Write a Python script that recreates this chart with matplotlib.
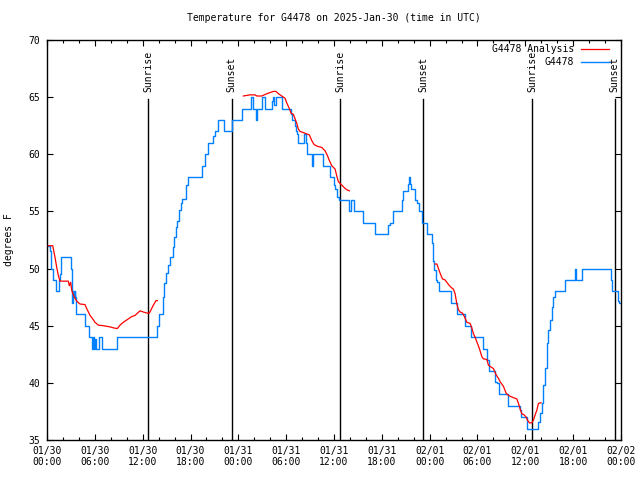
import numpy as np
import matplotlib
matplotlib.use("Agg")
import matplotlib.pyplot as plt
import matplotlib.transforms as mtransforms

# hours since 2025-01-30 00:00 UTC
obs_hours = [0.06, 0.38, 0.56, 0.75, 1.13, 1.54, 1.63, 1.76, 2.97, 3.10, 3.17, 3.30, 3.39, 3.48,
             3.55, 3.64, 4.77, 5.27, 5.61, 5.81, 5.93, 6.02, 6.15, 6.52, 6.86, 8.82, 13.74, 14.09,
             14.52, 14.68, 14.93, 15.22, 15.43, 15.77, 15.93, 16.19, 16.35, 16.60, 16.78, 16.98,
             17.44, 17.73, 19.41, 19.82, 20.16, 20.87, 21.08, 21.49, 22.21, 23.17, 24.43, 25.56,
             25.89, 26.19, 26.31, 26.94, 27.35, 28.19, 28.39, 28.52, 28.70, 29.45, 30.58, 30.70,
             31.12, 31.24, 31.41, 31.53, 32.25, 32.50, 32.58, 33.21, 33.29, 33.41, 34.67, 35.51,
             36.01, 36.14, 36.35, 36.64, 37.85, 38.14, 38.52, 39.61, 41.15, 42.82, 43.04, 43.45,
             44.50, 44.63, 45.33, 45.46, 45.55, 45.67, 46.17, 46.46, 46.68, 47.05, 47.64, 48.34,
             48.39, 48.59, 48.77, 48.97, 49.18, 50.69, 51.48, 52.45, 53.20, 54.67, 55.17, 55.50,
             56.21, 56.50, 56.71, 57.80, 59.35, 59.47, 60.26, 61.64, 61.86, 62.07, 62.27, 62.48,
             62.70, 62.90, 63.11, 63.32, 63.53, 63.74, 64.99, 66.25, 66.37, 67.16, 70.77, 70.93,
             71.68, 71.81, 71.96]
obs_temp = [52, 51.5, 50, 49, 48, 49, 49.5, 51, 50, 48, 47, 48, 47.5, 48,
            47.5, 46, 45, 44, 43, 44, 43, 43.8, 43, 44, 43, 44, 45, 46,
            47.5, 48.7, 49.6, 50.3, 51, 51.9, 52.8, 53.6, 54.2, 55.1, 55.7, 56.1,
            57.3, 58, 59, 60, 61, 61.6, 62, 63, 62, 63, 64, 65,
            64, 63, 64, 65, 64, 64.7, 65, 64.3, 65, 64, 63.5, 63,
            62.5, 62, 61.8, 61, 61.8, 61, 60, 59.3, 59, 60, 59, 58,
            57.3, 57, 56.3, 56, 55, 56, 55, 54, 53, 53.8, 54, 55,
            56, 56.8, 57.4, 58, 57.4, 57, 56, 55.7, 55, 54, 53, 52.2,
            50.7, 49.9, 49, 48.8, 48, 47, 46, 45, 44, 43, 42, 41,
            40.1, 40, 39, 38, 37.6, 37, 36, 36.6, 37.4, 38.2, 39.8, 41.3,
            43.5, 44.6, 45.5, 46.6, 47.5, 48, 49, 50, 49, 50, 49, 48,
            47.2, 47, 47]

# analysis series, NaN marks the gaps
ana_hours = [0.16, 0.72, 1.00, 1.22, 1.42, 1.63, 2.67, 2.80, 2.97, 3.10, 3.30, 3.51, 3.73, 4.14,
             4.77, 4.98, 5.40, 5.73, 6.02, 6.44, 7.06, 7.90, 8.41, 8.82, 9.16, 9.57, 10.0, 10.63,
             11.04, 11.67, 12.08, 12.58, 12.84, 13.34, 13.68, 13.84, 19.0,
             24.63, 25.47, 26.10, 26.31, 26.94, 27.57, 27.98, 28.39, 28.73, 29.02, 29.45, 29.86,
             30.07, 30.40, 30.61, 30.90, 31.12, 31.33, 31.53, 31.74, 32.16, 32.50, 32.91, 33.21,
             33.50, 33.91, 34.47, 34.88, 35.17, 35.42, 35.72, 36.14, 36.35, 36.55, 36.85, 37.26,
             37.60, 37.93, 43.0,
             48.68, 48.90, 49.10, 49.31, 49.60, 49.94, 50.15, 50.48, 50.78, 50.98, 51.19, 51.41,
             51.61, 51.82, 52.11, 52.36, 52.66, 53.07, 53.29, 53.49, 53.70, 53.91, 54.24, 54.54,
             54.74, 55.17, 55.37, 55.67, 56.00, 56.34, 56.62, 56.84, 57.25, 57.59, 57.88, 58.51,
             58.93, 59.14, 59.35, 59.56, 59.85, 60.10, 60.26, 60.51, 60.81, 61.02, 61.23, 61.44,
             61.64, 61.86, 61.98]
ana_temp = [52, 52, 51, 50.1, 49.4, 48.9, 48.9, 48.5, 48.8, 48.1, 47.7, 47.4, 47.15, 46.9,
            46.85, 46.5, 45.9, 45.6, 45.3, 45.05, 45.0, 44.9, 44.8, 44.75, 45.05, 45.3, 45.5, 45.8,
            45.9, 46.3, 46.2, 46.1, 46.1, 46.8, 47.2, 47.2, np.nan,
            65.1, 65.2, 65.2, 65.1, 65.1, 65.3, 65.4, 65.5, 65.5, 65.3, 65.1, 64.9,
            64.5, 64.0, 63.6, 63.5, 63.1, 62.7, 62.2, 62.0, 61.9, 61.8, 61.7, 61.2,
            60.85, 60.7, 60.6, 60.3, 59.9, 59.45, 59.0, 58.7, 58.1, 57.6, 57.4, 57.1,
            56.9, 56.8, np.nan,
            50.4, 50.4, 50.0, 49.6, 49.1, 49.0, 48.8, 48.5, 48.3, 48.2, 47.8, 46.9,
            46.4, 46.2, 46.1, 45.8, 45.3, 45.2, 44.8, 44.3, 44.0, 43.6, 43.0, 42.3,
            42.1, 42.05, 41.55, 41.4, 41.25, 40.7, 40.4, 40.1, 39.7, 39.1, 38.9, 38.7,
            38.6, 38.2, 37.7, 37.3, 37.2, 37.0, 36.75, 36.5, 36.5, 36.75, 37.2, 37.6,
            38.2, 38.25, 38.25]

event_hours = [12.67, 23.15, 36.76, 47.18, 60.85, 71.2]
event_names = ["Sunrise", "Sunset", "Sunrise", "Sunset", "Sunrise", "Sunset"]

tick_hours = list(range(0, 73, 6))
tick_labels = ["01/30\n00:00", "01/30\n06:00", "01/30\n12:00", "01/30\n18:00",
               "01/31\n00:00", "01/31\n06:00", "01/31\n12:00", "01/31\n18:00",
               "02/01\n00:00", "02/01\n06:00", "02/01\n12:00", "02/01\n18:00",
               "02/02\n00:00"]

plt.rcParams['font.family'] = 'DejaVu Sans Mono'
plt.rcParams['font.size'] = 7

fig = plt.figure(figsize=(6.4, 4.8), dpi=100)
ax = fig.add_axes([47/640, 40/480, 574/640, 400/480])

ax.plot(ana_hours, ana_temp, color='red', lw=0.9, label='G4478 Analysis', zorder=3)
ax.plot(obs_hours, obs_temp, color='#0080ff', lw=1.0, drawstyle='steps-post',
        label='G4478', zorder=2)

trans = mtransforms.blended_transform_factory(ax.transData, ax.transAxes)
for h, name in zip(event_hours, event_names):
    ax.axvline(h, ymin=0, ymax=0.853, color='black', lw=1.0, zorder=1)
    ax.text(h, 0.87, name, rotation=90, ha='center', va='bottom', transform=trans)

ax.set_xlim(0, 72)
ax.set_ylim(35, 70)
ax.set_xticks(tick_hours)
ax.set_xticklabels(tick_labels)
ax.set_xticks(np.arange(0, 73, 2), minor=True)
ax.set_yticks(range(35, 71, 5))
ax.tick_params(which='both', direction='in', top=True, right=True, color='black')
ax.tick_params(which='major', length=4.5, width=0.8, pad=5)
ax.tick_params(which='minor', length=2.5, width=0.8)
ax.tick_params(axis='x', pad=4)
for s in ax.spines.values():
    s.set_linewidth(1.0)

ax.set_title("Temperature for G4478 on 2025-Jan-30 (time in UTC)", fontsize=7, pad=14)
ax.set_ylabel("degrees F")
ax.yaxis.set_label_coords(-0.057, 0.5)

ax.legend(loc='upper right', bbox_to_anchor=(0.979, 0.99), frameon=False,
          markerfirst=False, handlelength=2.9, handletextpad=0.7,
          borderpad=0, borderaxespad=0, labelspacing=0.35)

fig.savefig("out.png", dpi=100)
